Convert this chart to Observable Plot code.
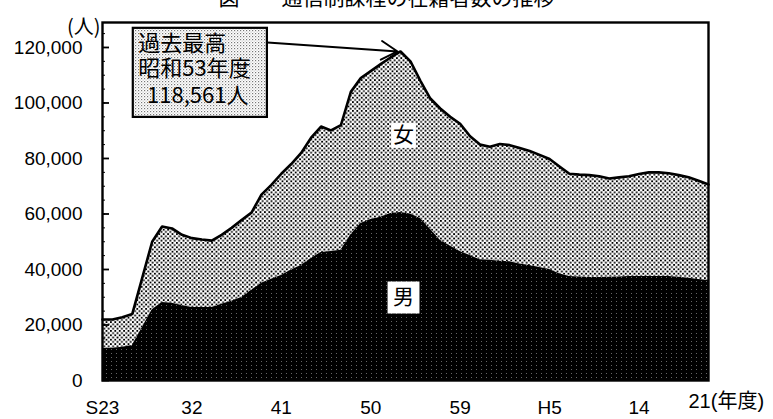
<!DOCTYPE html>
<html>
<head>
<meta charset="utf-8">
<script src="https://cdn.jsdelivr.net/npm/d3@7"></script>
<script src="https://cdn.jsdelivr.net/npm/@observablehq/plot@0.6"></script>
<style>
  html, body { margin: 0; padding: 0; background: #fff; }
  #wrap { position: relative; width: 773px; height: 419px; overflow: hidden; }
  #title { position: absolute; top: -14px; left: 0; width: 773px; text-align: center;
           font: 21px/21px "Noto Sans CJK JP", sans-serif; color: #000; }
  #chart { position: absolute; top: 0; left: 0; }
</style>
</head>
<body>
<div id="wrap">
  <div id="title">図　　通信制課程の在籍者数の推移</div>
  <div id="chart"></div>
</div>
<script>
// ---- data ----
const years = [1948,1949,1950,1951,1952,1953,1954,1955,1956,1957,
               1958,1959,1960,1961,1962,1963,1964,1965,1966,1967,
               1968,1969,1970,1971,1972,1973,1974,1975,1976,1977,
               1978,1979,1980,1981,1982,1983,1984,1985,1986,1987,
               1988,1989,1990,1991,1992,1993,1994,1995,1996,1997,
               1998,1999,2000,2001,2002,2003,2004,2005,2006,2007,
               2008,2009];
const male = [11500,11600,12000,12600,19000,25500,28100,27800,27000,26300,
              26300,26300,27500,28600,29900,32500,35000,36500,37800,39800,
              41400,44000,46100,46500,46900,52500,56600,58000,58800,60200,
              60500,60000,58400,54500,50500,48500,46500,45000,43500,43300,
              43000,42800,42000,41400,40700,40000,38500,37500,37300,37100,
              37100,37200,37300,37500,37500,37500,37500,37500,37200,36800,
              36400,36000];
const female = [10500,10400,10800,11400,18000,24500,27400,27000,25500,25000,
                24500,24100,25000,26400,27900,28000,32000,34000,36700,38200,
                40600,43500,45400,43600,45100,51500,52400,53500,55200,56200,
                58061,55000,49600,47100,47500,46500,46000,43000,41500,40900,
                42200,42000,41800,41300,40600,39800,38600,37000,36900,36900,
                36500,35600,35900,36100,36900,37500,37500,37200,36800,36400,
                35600,34600];
const xTickYears  = [1948, 1957, 1966, 1975, 1984, 1993, 2002];
const xTickLabels = ["S23", "32", "41", "50", "59", "H5", "14"];
const lastTick = {year: 2009, label: "21(年度)"};
const yTicks = [0, 20000, 40000, 60000, 80000, 100000, 120000];
const yMinor = d3.range(0, 125001, 5000);
const areaLabels = [
  {text: "女", year: 1978.3, value: 88300, r: 14},
  {text: "男", year: 1978.3, value: 29900, r: 18}
];
const note = {lines: ["過去最高", "昭和53年度", "\u2009\u2009118,561人"],
              x1: 1951.1, x2: 1964.6, y1: 94800, y2: 126900,
              textYear: 1951.6, textValues: [121300, 112300, 102700],
              arrowFrom: [1964.6, 121800], arrowTo: [1977.7, 118561]};

const rows = years.map((year, i) => ({year, male: male[i], female: female[i], total: male[i] + female[i]}));
const labelOf = new Map(xTickYears.map((y, i) => [y, xTickLabels[i]]));
const noteLines = note.lines.map((t, i) => ({text: t, x: note.textYear, y: note.textValues[i]}));
const CJK = "Noto Sans CJK JP, sans-serif";

const chart = Plot.plot({
  width: 773,
  height: 419,
  marginTop: 22,
  marginRight: 65,
  marginBottom: 39,
  marginLeft: 102,
  style: {fontFamily: "Liberation Sans, Noto Sans CJK JP, sans-serif", fontSize: "19px", color: "#000", background: "transparent"},
  x: {domain: [1948, 2009]},
  y: {domain: [0, 129000]},
  r: {type: "identity"},
  marks: [
    Plot.areaY(rows, {x: "year", y1: "male", y2: "total", fill: "url(#femalePat)", curve: "linear"}),
    Plot.areaY(rows, {x: "year", y1: 0, y2: "male", fill: "url(#malePat)", curve: "linear"}),
    Plot.lineY(rows, {x: "year", y: "total", stroke: "#000", strokeWidth: 2.6, strokeLinejoin: "round"}),
    Plot.tickY(yTicks, {y: d => d, insetRight: 599, stroke: "#000", strokeWidth: 1.8}),
    Plot.tickY(yMinor, {y: d => d, insetRight: 603, stroke: "#000", strokeWidth: 1}),
    Plot.frame({stroke: "#000", strokeWidth: 2.4}),
    Plot.axisY({ticks: yTicks, tickSize: 0, tickPadding: 20, tickFormat: d3.format(","), label: null}),
    Plot.axisX({ticks: xTickYears, tickSize: 0, tickPadding: 20, tickFormat: d => labelOf.get(d), label: null}),
    Plot.text([lastTick], {x: "year", frameAnchor: "bottom", text: "label", textAnchor: "start", dx: -20, dy: 27, fontSize: 20}),
    Plot.text(["(人)"], {frameAnchor: "top-left", text: d => d, textAnchor: "end", dx: -2, dy: -3, fontFamily: CJK, fontSize: 20}),
    // area labels
    Plot.dot(areaLabels, {x: "year", y: "value", r: "r", symbol: "square", fill: "#fff", stroke: "none"}),
    Plot.text(areaLabels, {x: "year", y: "value", text: "text", fontFamily: CJK, fontSize: 21, fill: "#000"}),
    // annotation
    Plot.rect([note], {x1: "x1", x2: "x2", y1: "y1", y2: "y2", fill: "url(#notePat)", stroke: "#000", strokeWidth: 2.2}),
    Plot.text(noteLines, {x: "x", y: "y", text: "text", textAnchor: "start", fontFamily: CJK, fontSize: 22, fill: "#000"}),
    Plot.arrow([note], {x1: d => d.arrowFrom[0], y1: d => d.arrowFrom[1], x2: d => d.arrowTo[0], y2: d => d.arrowTo[1],
      bend: 0, headLength: 14, stroke: "#000", strokeWidth: 2})
  ]
});

// halftone patterns
const defs = d3.select(chart).insert("defs", ":first-child");
const fp = defs.append("pattern").attr("id", "femalePat").attr("patternUnits", "userSpaceOnUse").attr("width", 4.4).attr("height", 4.4);
fp.append("rect").attr("width", 4.4).attr("height", 4.4).attr("fill", "#fff");
fp.append("rect").attr("x", 0).attr("y", 0).attr("width", 1.8).attr("height", 1.8).attr("fill", "#000");
fp.append("rect").attr("x", 2.2).attr("y", 2.2).attr("width", 1.8).attr("height", 1.8).attr("fill", "#000");
const mp = defs.append("pattern").attr("id", "malePat").attr("patternUnits", "userSpaceOnUse").attr("width", 5).attr("height", 4);
mp.append("rect").attr("width", 5).attr("height", 4).attr("fill", "#000");
mp.append("rect").attr("x", 1).attr("y", 1).attr("width", 1).attr("height", 1).attr("fill", "#666");
const np = defs.append("pattern").attr("id", "notePat").attr("patternUnits", "userSpaceOnUse").attr("width", 3).attr("height", 3);
np.append("rect").attr("width", 3).attr("height", 3).attr("fill", "#fff");
np.append("rect").attr("x", 0).attr("y", 0).attr("width", 1.2).attr("height", 1.2).attr("fill", "#777");
np.append("rect").attr("x", 1.6).attr("y", 1.6).attr("width", 1).attr("height", 1).attr("fill", "#aaa");

document.getElementById("chart").appendChild(chart);
</script>
</body>
</html>
